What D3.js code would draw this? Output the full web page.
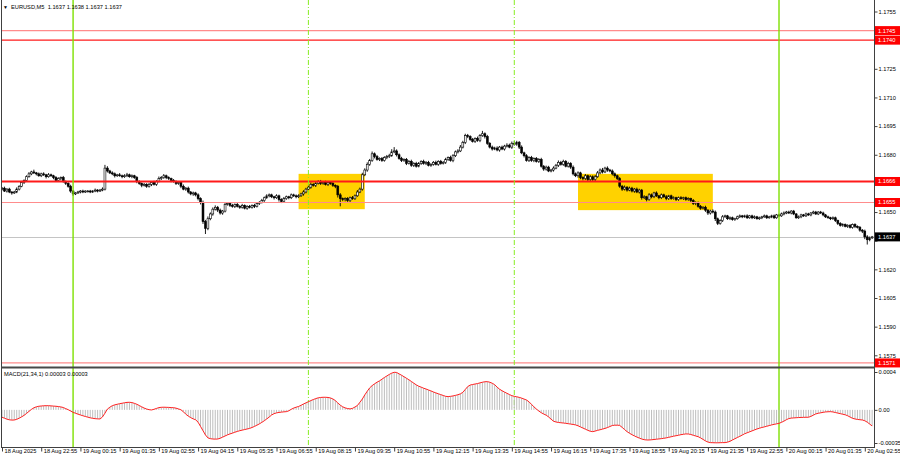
<!DOCTYPE html>
<html><head><meta charset="utf-8">
<script src="https://cdn.jsdelivr.net/npm/d3@7"></script>
<style>html,body{margin:0;padding:0;background:#fff;}svg{display:block;}text{font-family:"Liberation Sans",Arial,sans-serif;}</style>
</head><body><svg id="c" width="900" height="460"></svg>
<script>
// ---------------- DATA ----------------
const symbolTitle = "EURUSD,M5  1.1637 1.1638 1.1637 1.1637";
const macdTitle = "MACD(21,34,1) 0.00003 0.00003";
const PRICE_BASE = 1.1600, PIP = 0.0001;
const firstOpenPips = 62.0;
// M5 closes, pips above 1.1600 (one entry per bar, 18 Aug 21:35 .. 20 Aug 03:10)
const closePips = [
62.5,61.0,62.0,60.5,60.0,60.5,62.0,63.5,65.5,66.5,
68.5,70.0,71.0,70.5,70.0,69.0,70.0,69.5,68.5,69.5,
69.0,68.0,66.5,67.5,68.0,66.0,65.0,63.5,61.0,59.5,
60.0,60.5,61.0,60.5,61.0,61.0,60.5,61.0,61.5,61.0,
61.5,62.0,73.0,71.5,70.5,70.0,69.0,69.5,69.0,68.5,
69.0,69.5,68.5,69.0,68.0,66.0,65.0,64.0,64.5,63.5,
64.5,65.5,64.5,66.0,67.5,68.0,69.0,68.0,67.5,66.5,
66.0,65.0,65.5,63.5,62.0,62.5,60.5,59.5,60.0,59.0,
57.0,55.0,45.0,41.5,46.5,49.0,51.5,52.5,51.0,49.5,
50.5,54.0,54.5,53.5,53.0,54.0,53.0,52.5,53.5,52.0,
53.0,52.5,53.5,53.0,54.5,55.0,56.0,57.5,58.5,59.0,
58.0,57.5,58.5,56.5,55.5,57.0,58.0,57.5,59.0,58.5,
58.0,58.5,59.5,60.5,62.0,63.0,64.5,64.0,65.0,66.0,
65.0,65.5,64.5,65.5,65.0,64.0,63.5,59.0,57.0,56.5,
57.0,56.0,57.5,57.0,58.5,60.5,62.0,69.5,72.0,75.0,
77.0,80.5,79.0,77.5,78.0,77.0,78.5,79.0,79.5,81.5,
82.0,80.0,78.0,77.0,77.5,75.5,76.5,74.5,75.5,74.0,
75.5,76.5,75.5,76.0,74.5,75.0,76.0,75.0,76.5,75.5,
76.0,77.5,78.5,77.0,79.5,81.5,82.0,84.0,86.5,90.0,
89.5,88.0,87.0,88.5,87.5,90.0,91.0,89.5,86.0,84.0,
83.0,83.5,82.5,84.0,83.0,84.5,85.0,84.0,86.0,85.5,
86.5,84.0,81.0,79.5,77.0,78.5,77.0,78.0,76.5,77.5,
74.0,72.5,73.5,71.5,72.0,73.0,74.5,76.0,75.0,76.5,
74.0,75.5,73.5,70.0,69.0,70.5,68.0,67.5,69.0,67.0,
68.5,67.0,68.5,70.5,72.0,71.0,73.0,72.0,71.5,70.0,
69.0,67.5,63.5,62.0,63.0,61.5,62.5,61.0,62.0,60.5,
61.5,57.5,58.0,56.5,59.0,58.0,60.0,58.5,57.5,59.0,
58.0,57.0,58.5,57.0,57.5,56.5,57.5,57.0,57.5,56.5,
57.0,56.0,54.5,55.0,53.0,52.0,52.5,51.0,49.5,50.5,
50.0,46.5,44.0,45.5,47.5,48.0,46.5,47.0,46.0,46.5,
47.5,48.0,47.5,48.0,47.0,48.0,47.0,47.5,46.5,47.0,
47.5,48.0,47.0,47.5,48.0,47.0,48.5,48.0,49.0,49.5,
50.0,49.5,50.5,49.0,47.0,47.5,48.5,48.0,49.0,48.5,
49.5,50.0,49.0,50.0,49.5,48.5,47.5,47.0,46.5,47.0,
45.5,44.0,43.0,43.5,42.5,43.0,42.0,43.5,42.5,42.0,
40.5,40.0,37.0,35.5,36.5,37.0];
// upper / lower shadow lengths in pips
const wickUpPips = [
.6,.8,.5,.7,.4,.6,.9,.5,.8,.6,.7,.9,.6,1.2,.5,.7,.6,.8,.5,.9,
.6,.5,.8,.7,.6,.9,.5,.6,.8,.5,.4,.6,.5,.7,.4,.5,.6,.5,.8,.5,
.6,.9,1.7,1.0,.6,.8,.7,.5,.9,.6,.8,1.0,.6,.7,.5,.8,.6,.5,.7,.6,
.8,.6,.9,.7,1.1,.8,.9,.6,.7,.5,.8,.6,.7,.5,.9,.6,.8,.5,.7,.6,
.8,.7,1.0,.9,1.2,.8,.9,1.0,.7,.8,.6,1.1,.7,.6,.8,.5,.7,.6,.8,.5,
.6,.7,.5,.8,.6,.7,.9,.6,.8,.7,.6,.5,.8,.6,.7,.9,.6,.5,.7,.6,
.7,.8,.6,.9,.7,.8,1.0,.6,.9,.7,.8,.6,.9,.7,.6,.8,.5,.7,.9,.6,
.7,.8,.6,.9,.7,1.0,.8,1.1,.9,1.0,.8,1.2,.7,.9,.6,.8,.7,.9,1.0,1.4,
2.0,.8,.7,.9,.6,.8,.7,.9,.6,.8,.7,.6,.9,.7,.8,.6,.7,.9,.6,.8,
.7,.9,.6,1.0,.8,.7,.9,1.1,.8,1.0,.9,.7,.8,.6,1.0,.8,1.5,.7,.9,.6,
.8,.7,.9,.6,.8,.7,1.0,.8,.9,1.2,.8,.7,.9,.6,.8,.7,.9,.6,.8,.7,
.9,.6,.8,.7,.6,.9,.7,1.0,.8,.9,.7,.8,.6,.9,.7,.8,.6,.7,.9,.6,
.8,.7,.9,1.0,.8,1.1,.7,.9,.6,.8,.7,.6,.8,.7,.9,.6,.8,.7,.6,.8,
.7,.6,.8,.5,.9,.7,.6,.8,.5,.7,.6,.9,.5,.6,.7,.5,.6,.8,.5,.6,
.7,.5,.8,.6,.5,.7,.6,.8,.5,.7,.9,.8,.6,.7,.9,.6,.5,.7,.6,.5,
.6,.7,.5,.6,.8,.5,.6,.7,.5,.6,.5,.7,.6,.5,.6,.7,.5,.6,.7,.8,
.6,.7,.5,.6,.5,.7,.6,.5,.7,.6,.5,.7,.6,.5,.6,.7,.5,.6,.5,.7,
.6,.5,.7,.6,.5,.6,.7,.5,.6,.5,.7,.6,.8,.9,.7,.5];
const wickDownPips = [
.7,.5,.8,.6,.9,.5,.6,.7,.5,.8,.6,.5,.7,.6,.8,.5,.7,.6,.9,.5,
.6,.8,.5,.7,.9,.6,.8,.7,.9,1.0,.6,.5,.7,.6,.5,.7,.6,.5,.6,.7,
.5,.6,.7,.8,.6,.7,.9,.6,.5,.8,.6,.7,.5,.8,.6,.9,.7,1.0,.6,.8,
.7,.9,.6,.8,.5,.7,.6,.8,.7,.9,.6,.8,.7,1.0,.6,.9,.8,.7,1.0,.8,
.9,1.0,1.2,3.0,1.0,.8,.9,.7,1.0,.8,.9,.7,.6,.8,.7,.9,.6,.8,.7,.6,
.8,.6,.7,.9,.6,.8,.5,.7,.6,.8,.7,.9,.6,1.0,.8,.7,.6,.8,.7,.6,
.8,.7,.6,.9,.7,.6,.8,.7,.9,.6,.8,.7,.6,.9,.7,.8,1.0,1.4,4.0,.8,
.9,.7,.8,.6,.7,.5,.6,.8,.7,.9,.8,.7,.9,.6,.8,.7,.6,.8,.7,.6,
.7,.9,.6,.8,.7,.9,.6,.8,.9,.7,.6,.8,.7,.9,.6,.8,.7,.6,.8,.7,
.6,.8,.7,.6,.9,.7,.8,.6,.7,.9,.8,.7,.6,.8,.7,.9,.6,1.0,.8,.7,
.8,.6,.7,.9,.6,.8,.7,.6,.9,.7,.8,1.0,.7,.9,.6,.8,.7,.9,.6,.8,
.7,.9,.8,.6,.7,.8,.6,.9,.7,.8,.6,.7,.9,.8,.7,1.0,.8,.9,.7,.8,
.9,.7,.8,.6,.7,.8,.6,.9,.7,.8,1.0,.7,.8,.9,.7,.8,.6,.7,.9,.6,
.8,1.0,.7,.9,.6,.8,.7,.6,.8,.7,.6,.8,.7,.6,.5,.7,.6,.5,.7,.6,
.6,.7,.8,.9,.7,.8,.6,.9,1.0,.8,.7,1.2,.8,.6,.7,.5,.6,.7,.5,.6,
.5,.6,.7,.5,.6,.5,.7,.6,.5,.6,.7,.5,.6,.5,.7,.6,.5,.6,.5,.7,
.6,.5,.7,.6,.5,.6,.7,.5,.6,.5,.7,.6,.5,.6,.5,.7,.6,.5,.7,.6,
.7,.8,.6,.7,.5,.8,.6,.7,.9,.6,.8,1.0,1.2,2.5,.8,.6];
// MACD main value per bar, in units of 0.00001
const macdE5 = [
-7.8,-8.8,-9.8,-10.5,-10.8,-10.7,-10.0,-8.8,-7.4,-5.8,
-3.8,-1.6,0.5,2.2,3.2,3.8,4.1,4.3,4.4,4.4,
4.2,4.0,3.8,3.5,3.1,2.5,1.3,0.2,-1.2,-2.6,
-3.6,-4.5,-5.4,-6.2,-7.0,-7.7,-8.4,-8.9,-9.3,-9.5,
-9.6,-7.5,-3.5,0.8,2.8,4.4,5.3,5.9,6.5,7.0,
7.5,7.9,8.0,7.7,6.9,5.9,4.6,3.2,1.9,0.9,
0.2,-0.1,0.6,1.5,2.4,2.7,2.8,2.7,2.6,2.4,
2.3,1.8,1.0,0.1,-2.0,-4.6,-6.6,-8.2,-9.5,-10.5,
-13.0,-17.5,-22.0,-26.5,-29.6,-30.4,-30.8,-30.9,-30.8,-30.0,
-28.8,-27.6,-26.4,-25.4,-24.6,-23.6,-22.8,-22.0,-21.4,-20.8,
-20.2,-19.6,-18.6,-17.5,-16.2,-14.8,-13.2,-11.5,-9.6,-7.6,
-5.4,-4.0,-3.2,-2.7,-2.4,-2.1,-1.9,-1.0,0.6,1.9,
2.8,3.6,4.8,6.2,7.4,8.6,9.8,10.9,11.9,12.7,
13.1,13.3,13.3,13.1,12.6,11.5,9.8,7.3,5.0,3.2,
2.1,1.4,1.0,1.6,3.0,4.6,8.0,11.4,15.8,19.6,
23.2,25.6,27.5,29.2,30.6,32.4,34.2,35.8,37.4,38.8,
39.7,39.5,38.0,36.6,35.0,33.4,31.8,30.0,28.2,26.4,
25.0,24.0,22.9,22.0,21.0,20.0,18.9,17.9,17.0,16.1,
15.2,14.3,14.0,14.3,14.7,15.3,16.0,16.9,18.5,21.5,
24.6,26.2,26.8,27.3,27.8,28.5,29.2,29.7,29.8,29.2,
28.1,26.6,24.0,21.8,20.2,18.8,17.5,16.2,15.0,14.3,
13.8,13.2,12.4,11.4,10.4,8.5,5.9,3.2,0.9,-1.2,
-3.0,-4.4,-5.6,-7.5,-9.8,-12.0,-12.8,-13.3,-13.6,-13.9,
-14.2,-14.6,-15.0,-15.4,-15.9,-16.8,-18.0,-19.2,-20.4,-21.6,
-22.6,-23.0,-22.4,-21.6,-21.0,-20.3,-19.6,-18.7,-17.6,-16.5,
-16.2,-16.2,-16.4,-18.5,-20.8,-23.0,-24.7,-26.2,-27.5,-28.7,
-29.8,-30.8,-31.5,-31.8,-31.8,-31.6,-31.3,-31.0,-30.7,-30.4,
-30.0,-29.6,-29.0,-28.4,-27.8,-27.3,-26.8,-26.2,-25.8,-25.4,
-25.5,-26.0,-26.8,-27.6,-28.3,-29.6,-31.2,-32.8,-34.0,-34.6,
-34.7,-34.8,-34.8,-34.7,-34.6,-34.6,-34.1,-33.2,-31.8,-30.5,
-29.2,-28.0,-26.6,-25.2,-24.2,-23.2,-22.2,-21.2,-20.2,-19.4,
-18.6,-18.0,-17.3,-16.6,-15.9,-15.3,-14.8,-14.2,-13.2,-11.9,
-10.4,-9.2,-8.7,-8.5,-8.3,-8.1,-8.0,-7.9,-7.8,-7.8,
-6.9,-5.6,-4.3,-3.6,-3.1,-2.6,-2.2,-2.0,-1.9,-2.2,
-2.8,-3.4,-4.0,-4.6,-5.2,-6.2,-7.6,-8.9,-9.6,-10.1,
-10.4,-10.7,-11.5,-13.0,-15.0,-17.0];
const timeLabels = ["18 Aug 2025","18 Aug 22:55","19 Aug 00:15","19 Aug 01:35","19 Aug 02:55","19 Aug 04:15",
"19 Aug 05:35","19 Aug 06:55","19 Aug 08:15","19 Aug 09:35","19 Aug 10:55","19 Aug 12:15","19 Aug 13:35",
"19 Aug 14:55","19 Aug 16:15","19 Aug 17:35","19 Aug 18:55","19 Aug 20:15","19 Aug 21:35","19 Aug 22:55",
"20 Aug 00:15","20 Aug 01:35","20 Aug 02:55"];
const timeLabelBars = [0,16,32,48,64,80,96,112,128,144,160,176,192,208,224,240,256,272,288,304,320,336,352];
const priceTicks = [1.1755,1.1740,1.1725,1.1710,1.1695,1.1680,1.1665,1.1650,1.1635,1.1620,1.1605,1.1590,1.1575];
const levelPrices = [1.1745,1.1740,1.1666,1.1655,1.1571];
const currentPrice = 1.1637;
const sessionLineBars = [29,125,209,317];   // 19 Aug 00:00, 08:00, 15:00, 20 Aug 00:00
const boxStartBars = [121,235];
const boxEndBars = [148,290];
const boxTopPrices = [1.1670,1.1670];
const boxBottomPrices = [1.16515,1.16510];
const macdTicks = [0.0004,0,-0.00035];
const macdTickLabels = ["0.0004","0.00","-0.00035"];

// ---------------- CHART ----------------
const svg = d3.select("#c");
const W = 900, H = 460;
const plotL = 2, plotR = 874, mainTop = 0, mainBot = 366, macTop = 369, macBot = 447;
const FS = 5.7;

svg.append("rect").attr("width",W).attr("height",H).attr("fill","#fff");

const x = d3.scaleLinear().domain([0,352]).range([2,864.8]);
const y = d3.scaleLinear().domain([1.1575,1.1755]).range([355.3,11.5]);
const ym = d3.scaleLinear().domain([-0.00035,0.0004]).range([443,372]);

const defs = svg.append("defs");
defs.append("clipPath").attr("id","cm").append("rect").attr("x",plotL).attr("y",mainTop).attr("width",plotR-plotL).attr("height",mainBot-mainTop);
defs.append("clipPath").attr("id","cd").append("rect").attr("x",plotL).attr("y",macTop).attr("width",plotR-plotL).attr("height",macBot-macTop);

const bars = closePips.map((c,i)=>{
  const o = i===0 ? firstOpenPips : closePips[i-1];
  const hi = Math.max(o,c) + (wickUpPips[i]||0);
  const lo = Math.min(o,c) - (wickDownPips[i]||0);
  return {i, o:PRICE_BASE+o*PIP, c:PRICE_BASE+c*PIP, h:PRICE_BASE+hi*PIP, l:PRICE_BASE+lo*PIP};
});

const gm = svg.append("g").attr("clip-path","url(#cm)");
// yellow rectangles (background)
gm.selectAll("rect.box").data(boxStartBars).join("rect").attr("class","box")
  .attr("x",(d,k)=>x(d)).attr("width",(d,k)=>x(boxEndBars[k])-x(d))
  .attr("y",(d,k)=>y(boxTopPrices[k])).attr("height",(d,k)=>y(boxBottomPrices[k])-y(boxTopPrices[k]))
  .attr("fill","#ffd200");
// current price line
gm.append("line").attr("x1",plotL).attr("x2",plotR).attr("y1",Math.round(y(currentPrice))+0.5).attr("y2",Math.round(y(currentPrice))+0.5)
  .attr("stroke","#c4c4c4").attr("stroke-width",1);
// candles
const cg = gm.append("g");
cg.selectAll("line.w").data(bars).join("line").attr("class","w")
  .attr("x1",d=>x(d.i)).attr("x2",d=>x(d.i)).attr("y1",d=>y(d.h)).attr("y2",d=>y(d.l))
  .attr("stroke","#000").attr("stroke-width",0.9);
cg.selectAll("rect.b").data(bars).join("rect").attr("class","b")
  .attr("x",d=>x(d.i)-0.95).attr("width",1.9)
  .attr("y",d=>y(Math.max(d.o,d.c))).attr("height",d=>Math.max(0.8,Math.abs(y(d.o)-y(d.c))))
  .attr("fill",d=>d.c>=d.o?"#fff":"#000").attr("stroke","#000").attr("stroke-width",0.6);
// horizontal levels
const strong = [false,true,true,false,false];
gm.selectAll("line.lv").data(levelPrices).join("line").attr("class","lv")
  .attr("x1",plotL).attr("x2",plotR).attr("y1",d=>y(d)).attr("y2",d=>y(d))
  .attr("stroke",(d,k)=>strong[k]?"#ff1a1a":"#ff8c8c").attr("stroke-width",(d,k)=>k===2?2:(strong[k]?1.4:1.2));

// vertical session lines through both panels
const solid = [true,false,false,true];
svg.selectAll("line.vl").data(sessionLineBars).join("line").attr("class","vl")
  .attr("x1",d=>x(d)).attr("x2",d=>x(d)).attr("y1",0).attr("y2",macBot)
  .attr("stroke",(d,k)=>solid[k]?"#7ee000":"#88ee22").attr("stroke-width",(d,k)=>solid[k]?1.4:1)
  .attr("stroke-dasharray",(d,k)=>solid[k]?null:"5,2,1,2");

// MACD panel
const gd = svg.append("g").attr("clip-path","url(#cd)");
gd.selectAll("line.h").data(macdE5).join("line").attr("class","h")
  .attr("x1",(d,i)=>x(i)).attr("x2",(d,i)=>x(i)).attr("y1",ym(0)).attr("y2",d=>ym(d*1e-5))
  .attr("stroke","#bdbdbd").attr("stroke-width",1);
gd.append("path").datum(macdE5).attr("fill","none").attr("stroke","#ff2020").attr("stroke-width",1)
  .attr("d",d3.line().x((d,i)=>x(i)).y(d=>ym(d*1e-5)));

// frames
svg.append("line").attr("x1",1.5).attr("x2",1.5).attr("y1",0).attr("y2",macBot).attr("stroke","#404040");
svg.append("line").attr("x1",plotR+0.5).attr("x2",plotR+0.5).attr("y1",0).attr("y2",macBot+0.5).attr("stroke","#404040");
svg.append("rect").attr("x",1).attr("y",366.5).attr("width",plotR-0.5).attr("height",2).attr("fill","#484848");
svg.append("line").attr("x1",1).attr("x2",plotR+1).attr("y1",macBot+0.5).attr("y2",macBot+0.5).attr("stroke","#404040");

// price axis (labels hidden under a coloured price tag are not repeated)
const tagPrices = levelPrices.concat([currentPrice]);
const hidden = p => tagPrices.some(t => Math.abs(y(t)-y(p)) < 6);
const pa = svg.append("g").attr("transform",`translate(${plotR+0.5},0)`)
  .call(d3.axisRight(y).tickValues(priceTicks).tickSize(3).tickPadding(1).tickFormat(d=>hidden(d)?"":d3.format(".4f")(d)));
pa.select(".domain").remove();
pa.selectAll("line").attr("stroke","#404040");
pa.selectAll("text").attr("font-size",FS).attr("fill","#000").attr("font-family","Liberation Sans, Arial, sans-serif");

// level labels (red) and current price label (black)
const lab = svg.append("g");
levelPrices.forEach(p=>{
  lab.append("rect").attr("x",plotR+1).attr("y",y(p)-4.5).attr("width",25).attr("height",9).attr("fill","#ff0000");
  lab.append("text").attr("x",plotR+4).attr("y",y(p)).attr("dy","0.35em").attr("font-size",FS).attr("fill","#fff").text(d3.format(".4f")(p));
});
lab.append("rect").attr("x",plotR+1).attr("y",y(currentPrice)-4.5).attr("width",25).attr("height",9).attr("fill","#000");
lab.append("text").attr("x",plotR+4).attr("y",y(currentPrice)).attr("dy","0.35em").attr("font-size",FS).attr("fill","#fff").text(d3.format(".4f")(currentPrice));

// MACD axis
const ma = svg.append("g").attr("transform",`translate(${plotR+0.5},0)`)
  .call(d3.axisRight(ym).tickValues(macdTicks).tickSize(3).tickPadding(1).tickFormat((d,k)=>macdTickLabels[k]));
ma.select(".domain").remove();
ma.selectAll("line").attr("stroke","#404040");
ma.selectAll("text").attr("font-size",FS).attr("fill","#000").attr("font-family","Liberation Sans, Arial, sans-serif");

// time axis
const ta = svg.append("g").attr("transform",`translate(0,${macBot+0.5})`)
  .call(d3.axisBottom(x).tickValues(timeLabelBars).tickSize(4).tickFormat((d,k)=>timeLabels[k]));
ta.select(".domain").remove();
ta.selectAll("line").attr("stroke","#404040");
ta.selectAll("text").attr("font-size",FS).attr("fill","#000").attr("text-anchor","start")
  .attr("x",2).attr("y",1.5).attr("dy","0.71em").attr("font-family","Liberation Sans, Arial, sans-serif");

// titles
svg.append("text").attr("x",3).attr("y",8.5).attr("font-size",5).attr("fill","#000").text("▼");
svg.append("text").attr("x",11).attr("y",8.5).attr("font-size",FS).attr("fill","#000").text(symbolTitle).style("white-space","pre");
svg.append("text").attr("x",4).attr("y",376).attr("font-size",FS).attr("fill","#000").text(macdTitle);
</script></body></html>
